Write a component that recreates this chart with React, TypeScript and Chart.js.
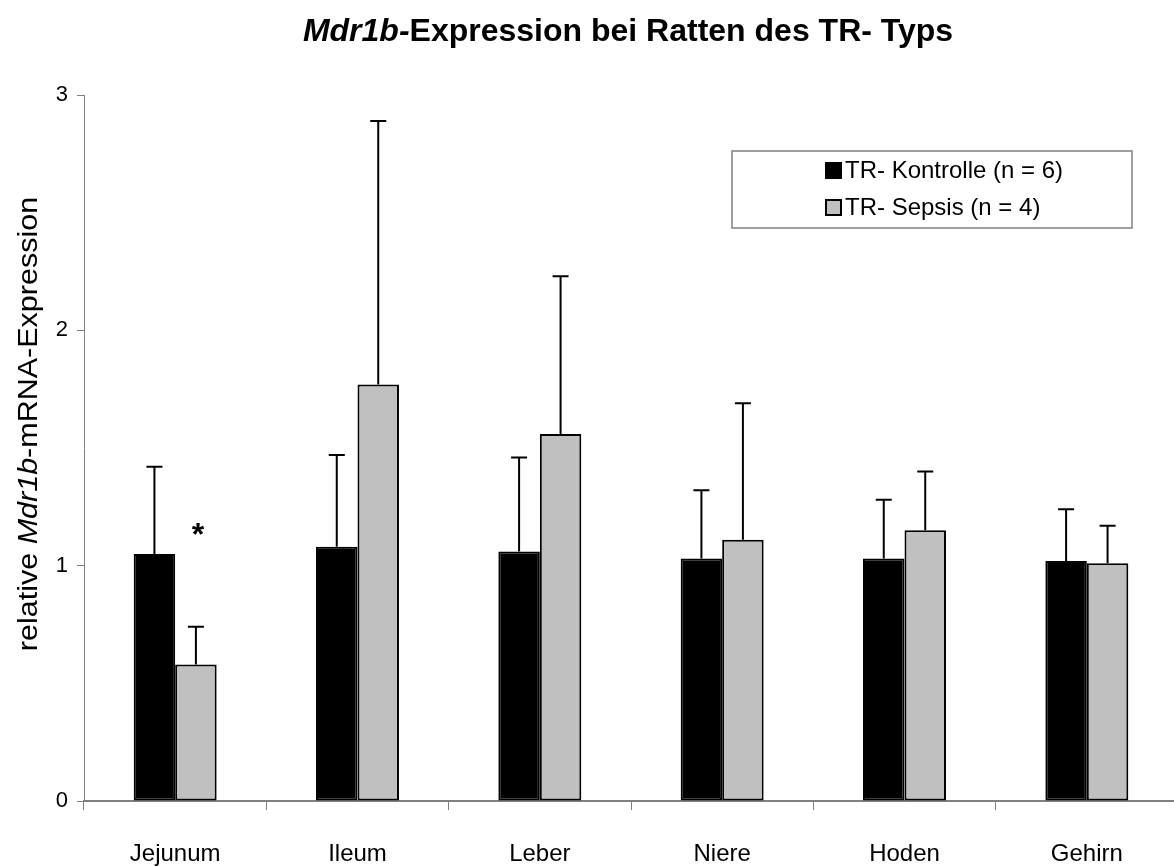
import { useEffect, useRef } from 'react';
import { Chart, registerables } from 'chart.js';

Chart.register(...registerables);

const FONT = "'Liberation Sans', Arial, sans-serif";

const categories = ['Jejunum', 'Ileum', 'Leber', 'Niere', 'Hoden', 'Gehirn'];
const seriesLabels = ['TR- Kontrolle (n = 6)', 'TR- Sepsis (n = 4)'];
const kontrolleMeans = [1.05, 1.08, 1.06, 1.03, 1.03, 1.02];
const kontrolleSD = [0.37, 0.39, 0.4, 0.29, 0.25, 0.22];
const sepsisMeans = [0.58, 1.77, 1.56, 1.11, 1.15, 1.01];
const sepsisSD = [0.16, 1.12, 0.67, 0.58, 0.25, 0.16];
const yTickValues = [0, 1, 2, 3];
// significance marker: category index, series index, height on the value axis
const significanceMarks = [{ category: 0, series: 1, level: 1.15, mark: '*' }];

const seriesFill = ['#000000', '#c0c0c0'];

const errorBarPlugin = {
  id: 'errorBars',
  afterDatasetsDraw(chart: any) {
    const { ctx } = chart;
    const yScale = chart.scales.y;
    ctx.save();
    ctx.strokeStyle = '#000';
    ctx.lineWidth = 2;
    chart.data.datasets.forEach((ds: any, i: number) => {
      const meta = chart.getDatasetMeta(i);
      meta.data.forEach((bar: any, j: number) => {
        const top = yScale.getPixelForValue(ds.data[j] + ds.errors[j]);
        ctx.beginPath();
        ctx.moveTo(bar.x, bar.y);
        ctx.lineTo(bar.x, top);
        ctx.moveTo(bar.x - 8, top);
        ctx.lineTo(bar.x + 8, top);
        ctx.stroke();
      });
    });
    ctx.fillStyle = '#000';
    ctx.font = `bold 32px ${FONT}`;
    ctx.textAlign = 'center';
    ctx.textBaseline = 'middle';
    significanceMarks.forEach((s) => {
      const bar: any = chart.getDatasetMeta(s.series).data[s.category];
      ctx.fillText(s.mark, bar.x + 2, yScale.getPixelForValue(s.level) + 6);
    });
    ctx.restore();
  },
};

function drawRuns(ctx: CanvasRenderingContext2D, runs: { text: string; font: string }[], x: number, y: number) {
  let cx = x;
  runs.forEach((r) => {
    ctx.font = r.font;
    ctx.fillText(r.text, cx, y);
    cx += ctx.measureText(r.text).width;
  });
}

function runsWidth(ctx: CanvasRenderingContext2D, runs: { text: string; font: string }[]) {
  let w = 0;
  runs.forEach((r) => {
    ctx.font = r.font;
    w += ctx.measureText(r.text).width;
  });
  return w;
}

const textPlugin = {
  id: 'chartTexts',
  afterDraw(chart: any) {
    const { ctx } = chart;
    ctx.save();
    ctx.fillStyle = '#000';
    ctx.textAlign = 'left';
    ctx.textBaseline = 'alphabetic';

    // title
    const titleRuns = [
      { text: 'Mdr1b-', font: `italic bold 32px ${FONT}` },
      { text: 'Expression bei Ratten des TR- Typs', font: `bold 32px ${FONT}` },
    ];
    const tw = runsWidth(ctx, titleRuns);
    drawRuns(ctx, titleRuns, 628 - tw / 2, 41);

    // value axis title
    const yRuns = [
      { text: 'relative ', font: `27px ${FONT}` },
      { text: 'Mdr1b', font: `italic 27px ${FONT}` },
      { text: '-mRNA-Expression', font: `27px ${FONT}` },
    ];
    const yw = runsWidth(ctx, yRuns);
    ctx.translate(37, 424);
    ctx.rotate(-Math.PI / 2);
    ctx.scale(1.13, 1);
    drawRuns(ctx, yRuns, -yw / 2, 0);
    ctx.setTransform(1, 0, 0, 1, 0, 0);

    // legend
    ctx.strokeStyle = '#808080';
    ctx.lineWidth = 1.5;
    ctx.strokeRect(732, 151, 400, 77);
    ctx.font = `24px ${FONT}`;
    ctx.textBaseline = 'middle';
    seriesLabels.forEach((label, i) => {
      const y = 170 + i * 37;
      ctx.fillStyle = seriesFill[i];
      ctx.fillRect(826, y - 7, 15, 15);
      ctx.strokeStyle = '#000';
      ctx.lineWidth = 2;
      ctx.strokeRect(826, y - 7, 15, 15);
      ctx.fillStyle = '#000';
      ctx.fillText(label, 845, y + 1);
    });
    ctx.restore();
  },
};

export default function App() {
  const canvasRef = useRef<HTMLCanvasElement | null>(null);

  useEffect(() => {
    const canvas = canvasRef.current;
    if (!canvas) return;
    const chart = new Chart(canvas, {
      type: 'bar',
      data: {
        labels: categories,
        datasets: [
          {
            label: seriesLabels[0],
            data: kontrolleMeans,
            errors: kontrolleSD,
            backgroundColor: seriesFill[0],
            borderColor: '#000',
            borderWidth: 2,
            borderSkipped: false,
          } as any,
          {
            label: seriesLabels[1],
            data: sepsisMeans,
            errors: sepsisSD,
            backgroundColor: seriesFill[1],
            borderColor: '#000',
            borderWidth: 2,
            borderSkipped: false,
          } as any,
        ],
      },
      options: {
        animation: false,
        responsive: false,
        devicePixelRatio: 1,
        layout: { padding: { top: 95, right: 22, left: 0, bottom: 0 } },
        categoryPercentage: 0.455,
        barPercentage: 1,
        plugins: {
          legend: { display: false },
          title: { display: false },
          tooltip: { enabled: false },
        },
        scales: {
          x: {
            grid: {
              offset: true,
              drawOnChartArea: false,
              drawTicks: true,
              tickLength: 9,
              color: '#808080',
              lineWidth: 1,
            },
            border: { color: '#808080', width: 2 },
            ticks: { color: '#000', font: { size: 24, family: FONT }, padding: 30 },
            afterFit: (s: any) => {
              s.height = 65;
            },
          },
          y: {
            min: 0,
            max: 3,
            afterBuildTicks: (s: any) => {
              s.ticks = yTickValues.map((v) => ({ value: v }));
            },
            grid: { drawOnChartArea: false, tickLength: 7, color: '#808080', lineWidth: 1 },
            border: { color: '#808080', width: 1 },
            ticks: { color: '#000', font: { size: 22, family: FONT }, padding: 9 },
            afterFit: (s: any) => {
              s.width = 84;
            },
          },
        },
      } as any,
      plugins: [errorBarPlugin, textPlugin],
    });
    return () => chart.destroy();
  }, []);

  return (
    <div
      style={{
        position: 'fixed',
        left: 0,
        top: 0,
        width: 1174,
        height: 866,
        overflow: 'hidden',
        background: '#fff',
      }}
    >
      <canvas ref={canvasRef} width={1200} height={866} style={{ display: 'block' }} />
    </div>
  );
}
